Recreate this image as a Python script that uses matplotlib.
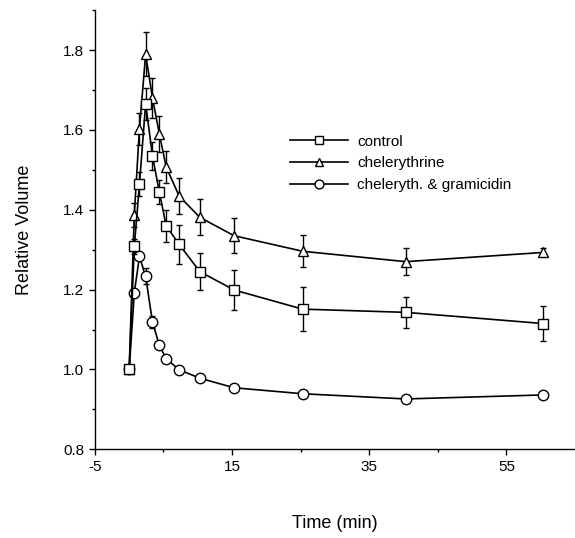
import matplotlib
matplotlib.use('Agg')
import matplotlib.pyplot as plt
from matplotlib.ticker import MultipleLocator, FixedLocator

plt.rcParams['font.family'] = ['Liberation Sans', 'DejaVu Sans']
plt.rcParams['axes.unicode_minus'] = False

# ---- data ----
time = [0, 0.75, 1.5, 2.4, 3.4, 4.4, 5.4, 7.3, 10.3, 15.3, 25.3, 40.3, 60.3]

control = [1.00, 1.308, 1.464, 1.666, 1.535, 1.444, 1.36, 1.313, 1.245, 1.199, 1.151, 1.143, 1.115]
control_err = [0.0, 0.02, 0.03, 0.04, 0.035, 0.03, 0.04, 0.05, 0.047, 0.05, 0.056, 0.038, 0.045]

chel = [1.00, 1.388, 1.603, 1.79, 1.68, 1.59, 1.507, 1.434, 1.381, 1.335, 1.296, 1.270, 1.293]
chel_err = [0.0, 0.03, 0.04, 0.055, 0.05, 0.045, 0.04, 0.045, 0.045, 0.044, 0.04, 0.034, 0.01]

gram = [1.00, 1.192, 1.283, 1.233, 1.119, 1.06, 1.027, 0.999, 0.978, 0.954, 0.939, 0.926, 0.936]
gram_err = [0.0, 0.01, 0.01, 0.02, 0.015, 0.01, 0.008, 0.006, 0.008, 0.006, 0.006, 0.006, 0.01]

fig = plt.figure(figsize=(5.75, 5.38), dpi=100)
ax = fig.add_axes([0.165, 0.165, 0.835, 0.816])

style = dict(color='black', lw=1.2, mfc='white', mec='black', mew=1.0,
             ecolor='black', elinewidth=1.0, capsize=2.5, capthick=1.0)

eb_g = ax.errorbar(time, gram, yerr=gram_err, marker='o', ms=7.5, zorder=2, **style)
eb_c = ax.errorbar(time, chel, yerr=chel_err, marker='^', ms=7.5, zorder=3, **style)
eb_s = ax.errorbar(time, control, yerr=control_err, marker='s', ms=7.5, zorder=4, **style)

ax.set_xlim(-5, 65)
ax.set_ylim(0.8, 1.9)
ax.xaxis.set_major_locator(FixedLocator([-5, 15, 35, 55]))
ax.xaxis.set_minor_locator(FixedLocator([5, 25, 45]))
ax.yaxis.set_major_locator(FixedLocator([0.8, 1.0, 1.2, 1.4, 1.6, 1.8]))
ax.yaxis.set_minor_locator(MultipleLocator(0.1))
ax.set_yticklabels(['0.8', '1.0', '1.2', '1.4', '1.6', '1.8'])

for s in ['top', 'right']:
    ax.spines[s].set_visible(False)
ax.spines['left'].set_linewidth(1.0)
ax.spines['bottom'].set_linewidth(1.0)
ax.tick_params(which='major', direction='out', length=4, width=1, labelsize=11)
ax.tick_params(which='minor', direction='out', length=2.5, width=1)

ax.set_xlabel('Time (min)', fontsize=13, labelpad=30)
ax.set_ylabel('Relative Volume', fontsize=13, labelpad=22)

# legend uses only the line+marker part of each errorbar
ax.legend([eb_s[0], eb_c[0], eb_g[0]],
          ['control', 'chelerythrine', 'cheleryth. & gramicidin'],
          loc='upper left', bbox_to_anchor=(0.378, 0.748), frameon=False,
          fontsize=11, handlelength=3.8, numpoints=1, labelspacing=0.5,
          handletextpad=0.6, markerscale=0.85)

fig.savefig('out.png', dpi=100)
